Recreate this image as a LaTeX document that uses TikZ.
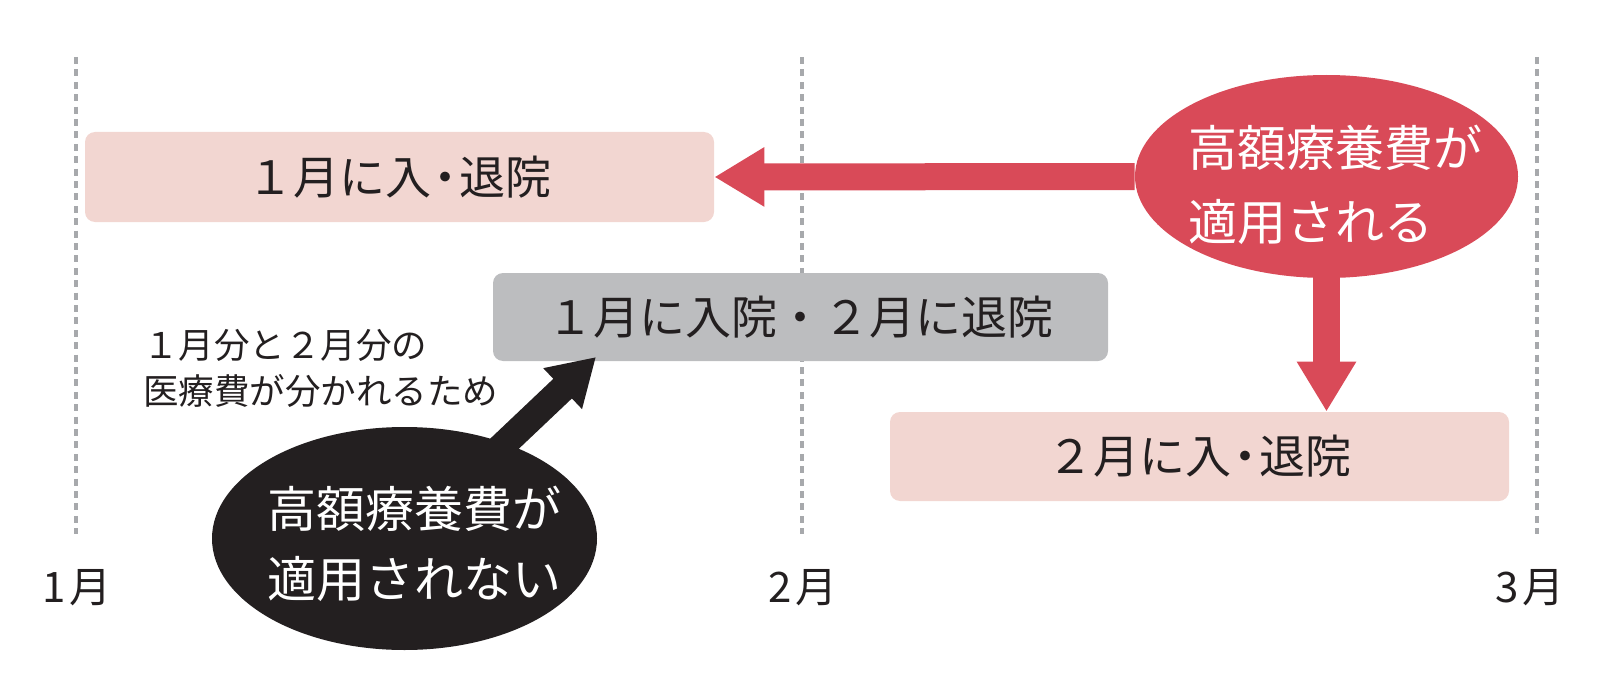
\documentclass[tikz,border=0pt]{standalone}
\usepackage{fontspec}
\setmainfont{Noto Sans CJK JP}
\usetikzlibrary{shapes.geometric,arrows.meta,calc}
\definecolor{pinkbox}{HTML}{F2D6D1}
\definecolor{greybox}{HTML}{BCBDBF}
\definecolor{redc}{HTML}{D94A58}
\definecolor{blkc}{HTML}{231F20}
\definecolor{dashc}{HTML}{A7A9AC}
\definecolor{txt}{HTML}{231F20}
\newcommand{\tightdot}{\kern-0.2em・\kern-0.2em}
\begin{document}
\begin{tikzpicture}[x=0.5pt,y=-0.5pt,
  monthline/.style={draw=dashc, line width=1.6pt, dash pattern=on 3.5pt off 2.7pt},
  monthlabel/.style={inner sep=0pt, text=txt, font=\fontsize{21}{25}\selectfont},
  periodbox/.style={rounded corners=5pt, inner sep=0pt, text=txt, font=\fontsize{23}{28}\selectfont},
  bubble/.style={ellipse, inner sep=0pt},
  bubbletext/.style={inner sep=0pt, text=white, align=left, anchor=west},
  notetext/.style={inner sep=0pt, text=txt, align=left, anchor=west, font=\fontsize{17.75}{23}\selectfont},
  redarrow/.style={draw=redc, line width=13.5pt, -{Triangle[length=25pt,width=28pt]}},
  blkarrow/.style={draw=blkc, line width=13.5pt, -{Triangle[length=23pt,width=26.5pt]}}
]
\useasboundingbox (0,0) rectangle (1622,674);
% month lines
\foreach \x/\n in {76/a,802/b,1537/c}{
  \coordinate (top\n) at (\x,57);
  \coordinate (bot\n) at (\x,534);
  \draw[monthline] (top\n) -- (bot\n);
}
\node[monthlabel] (m1) at (77,588) {1\kern0.08em 月};
\node[monthlabel] (m2) at (803,588) {2\kern0.08em 月};
\node[monthlabel] (m3) at (1530,588) {3\kern0.08em 月};
% period boxes
\node[periodbox, fill=pinkbox, minimum width=314.5pt, minimum height=45pt] (box1) at (399.5,177) {１月に入\tightdot 退院};
\node[periodbox, fill=greybox, minimum width=307.5pt, minimum height=44pt] (box2) at (800.5,317) {１月に入院・２月に退院};
\node[periodbox, fill=pinkbox, minimum width=309.5pt, minimum height=44.5pt] (box3) at (1199.5,456.5) {２月に入\tightdot 退院};
% bubbles
\node[bubble, fill=redc, minimum width=191.5pt, minimum height=101.5pt] (redell) at (1326.5,176.5) {};
\node[bubble, fill=blkc, minimum width=192.5pt, minimum height=111.5pt] (blkell) at (404.5,538.5) {};
\node[bubbletext, font=\fontsize{24.5}{36.75}\selectfont] (redtxt) at (1188,184.75) {高額療養費が\\適用される};
\node[bubbletext, font=\fontsize{24.5}{34.75}\selectfont] (blktxt) at (267,544) {高額療養費が\\適用されない};
% note
\node[notetext] (note) at (143,368) {１月分と２月分の\\医療費が分かれるため};
% arrows
\coordinate (blktip) at (596,357);
\draw[redarrow] (redell.west) -- (box1.east);
\draw[redarrow] (redell.south) -- (redell.south |- box3.north);
\draw[blkarrow] ($(blkell.center)!0.45!(blktip)$) -- (blktip);
\end{tikzpicture}
\end{document}
